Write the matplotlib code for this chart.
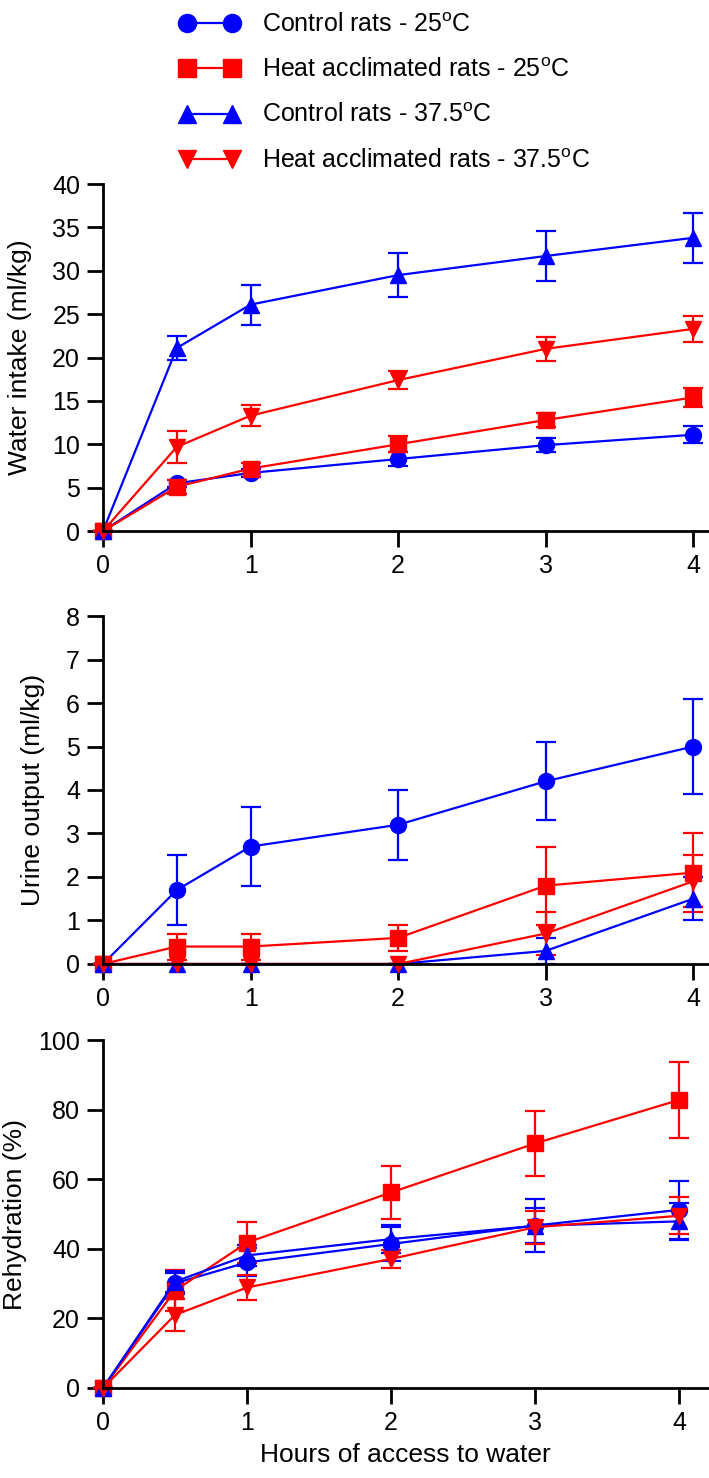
import matplotlib
matplotlib.use("Agg")
import matplotlib.pyplot as plt
from matplotlib.lines import Line2D

plt.rcParams['font.family'] = ['Liberation Sans', 'DejaVu Sans']
plt.rcParams['mathtext.fontset'] = 'custom'
plt.rcParams['mathtext.rm'] = 'Liberation Sans'

hours = [0, 0.5, 1, 2, 3, 4]

labels = ['Control rats - 25$^{\\mathrm{o}}$C',
          'Heat acclimated rats - 25$^{\\mathrm{o}}$C',
          'Control rats - 37.5$^{\\mathrm{o}}$C',
          'Heat acclimated rats - 37.5$^{\\mathrm{o}}$C']

# water intake (ml/kg), mean and error
water_ctl25 = [0, 5.5, 6.7, 8.3, 9.9, 11.1]
water_ctl25_err = [0, 0.4, 0.5, 0.8, 0.8, 1.0]
water_ha25 = [0, 5.1, 7.2, 10.0, 12.8, 15.4]
water_ha25_err = [0, 0.8, 0.6, 0.9, 0.8, 1.1]
water_ctl37 = [0, 21.1, 26.1, 29.5, 31.7, 33.8]
water_ctl37_err = [0, 1.4, 2.3, 2.5, 2.9, 2.9]
water_ha37 = [0, 9.7, 13.3, 17.4, 21.0, 23.3]
water_ha37_err = [0, 1.8, 1.2, 1.0, 1.4, 1.5]

# urine output (ml/kg)
urine_ctl25 = [0, 1.7, 2.7, 3.2, 4.2, 5.0]
urine_ctl25_err = [0, 0.8, 0.9, 0.8, 0.9, 1.1]
urine_ha25 = [0, 0.4, 0.4, 0.6, 1.8, 2.1]
urine_ha25_err = [0, 0.3, 0.3, 0.3, 0.9, 0.9]
urine_ctl37 = [0, 0, 0, 0, 0.3, 1.5]
urine_ctl37_err = [0, 0, 0, 0, 0.3, 0.5]
urine_ha37 = [0, 0, 0, 0, 0.7, 1.9]
urine_ha37_err = [0, 0, 0, 0, 0.5, 0.6]

# rehydration (%)
rehyd_ctl25 = [0, 30.1, 36.1, 41.4, 46.7, 51.2]
rehyd_ctl25_err = [0, 3.0, 4.0, 5.0, 7.6, 8.4]
rehyd_ha25 = [0, 28.0, 41.8, 56.2, 70.3, 82.8]
rehyd_ha25_err = [0, 6.0, 5.8, 7.7, 9.4, 11.0]
rehyd_ctl37 = [0, 30.6, 38.1, 42.8, 46.6, 47.9]
rehyd_ctl37_err = [0, 3.0, 3.0, 4.0, 5.0, 5.3]
rehyd_ha37 = [0, 21.0, 28.9, 37.1, 46.2, 49.5]
rehyd_ha37_err = [0, 4.5, 3.5, 2.5, 4.7, 5.3]

colors = ['#0000ff', '#ff0000', '#0000ff', '#ff0000']
markers = ['o', 's', '^', 'v']

panels = [
    ([water_ctl25, water_ha25, water_ctl37, water_ha37],
     [water_ctl25_err, water_ha25_err, water_ctl37_err, water_ha37_err],
     'Water intake (ml/kg)', 40, 5, 4.1),
    ([urine_ctl25, urine_ha25, urine_ctl37, urine_ha37],
     [urine_ctl25_err, urine_ha25_err, urine_ctl37_err, urine_ha37_err],
     'Urine output (ml/kg)', 8, 1, 4.1),
    ([rehyd_ctl25, rehyd_ha25, rehyd_ctl37, rehyd_ha37],
     [rehyd_ctl25_err, rehyd_ha25_err, rehyd_ctl37_err, rehyd_ha37_err],
     'Rehydration (%)', 100, 20, 4.2),
]

fig = plt.figure(figsize=(7.09, 14.78), dpi=100)
boxes = [[0.1453, 0.6407, 0.8533, 0.2348],
         [0.1453, 0.3478, 0.8533, 0.2354],
         [0.1453, 0.0609, 0.8533, 0.2354]]
label_x = [-0.117, -0.096, -0.126]

for i, (means, errs, ylab, ymax, ystep, xmax) in enumerate(panels):
    ax = fig.add_axes(boxes[i])
    for m, e, c, mk in zip(means, errs, colors, markers):
        ax.errorbar(hours, m, yerr=e, color=c, marker=mk, markersize=11.5,
                    linewidth=1.6, elinewidth=1.6, capsize=7, capthick=1.6,
                    clip_on=False)
    ax.set_xlim(0, xmax)
    ax.set_ylim(0, ymax)
    ax.set_xticks([0, 1, 2, 3, 4])
    ax.set_yticks(range(0, ymax + 1, ystep))
    for s in ['top', 'right']:
        ax.spines[s].set_visible(False)
    for s in ['left', 'bottom']:
        ax.spines[s].set_linewidth(2)
    ax.tick_params(length=11.5, width=2, labelsize=18, pad=5)
    ax.set_ylabel(ylab, fontsize=19)
    ax.yaxis.set_label_coords(label_x[i], 0.5)
    if i == 2:
        ax.set_xlabel('Hours of access to water', fontsize=19, labelpad=6)

handles = [Line2D([], [], color=c, marker=mk, markersize=13, linewidth=1.6)
           for c, mk in zip(colors, markers)]
fig.legend(handles, labels, loc='upper left', bbox_to_anchor=(0.235, 1.0),
           frameon=False, numpoints=2, handlelength=2.4, handletextpad=0.9,
           labelspacing=0.86, fontsize=18, borderaxespad=0.1)

fig.savefig('out.png', dpi=100)
